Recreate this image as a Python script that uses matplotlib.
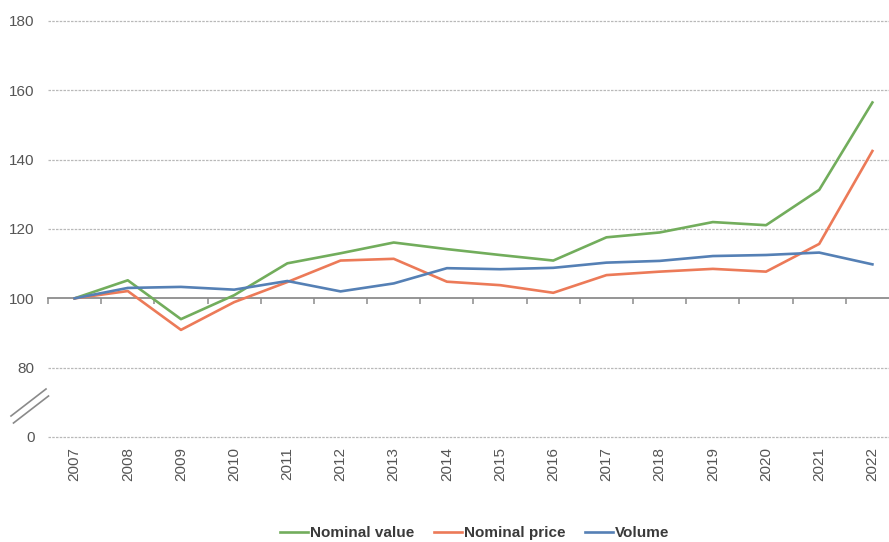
import matplotlib
matplotlib.use("Agg")
import matplotlib.pyplot as plt
import numpy as np

plt.rcParams['font.family'] = ['Liberation Sans', 'DejaVu Sans']

years = [str(y) for y in range(2007, 2023)]
nominal_value = [100, 105.2, 94.0, 100.9, 110.1, 113.0, 116.1, 114.2, 112.5, 110.9,
                 117.6, 119.0, 122.0, 121.1, 131.3, 156.5]
nominal_price = [100, 102.1, 90.9, 98.9, 104.7, 110.9, 111.4, 104.8, 103.8, 101.6,
                 106.7, 107.7, 108.5, 107.7, 115.7, 142.5]
volume = [100, 103.0, 103.3, 102.5, 105.0, 102.0, 104.3, 108.7, 108.4, 108.8,
          110.3, 110.8, 112.2, 112.5, 113.2, 109.8]

# Broken y axis: the "0" tick sits one step below 80
ytick_pos = [60, 80, 100, 120, 140, 160, 180]
ytick_labels = ['0', '80', '100', '120', '140', '160', '180']

green = '#72AD5C'
orange = '#EC7A58'
blue = '#5580B5'
grid_col = '#b9b9b9'
axis_col = '#8c8c8c'
text_col = '#555555'

W, H = 889, 542
fig = plt.figure(figsize=(W / 100, H / 100), dpi=100)
left, right, top, bottom = 48, 899, 21, 437
ax = fig.add_axes([left / W, 1 - bottom / H, (right - left) / W, (bottom - top) / H])

x = np.arange(len(years))
ax.set_xlim(-0.5, len(years) - 0.5)
ax.set_ylim(60, 180)

for yv in ytick_pos:
    if yv != 100:
        ax.axhline(yv, color=grid_col, lw=0.9, ls=(0, (2, 1)), zorder=1, clip_on=False)

ax.plot(x, nominal_value, color=green, lw=1.9, label='Nominal value', zorder=3)
ax.plot(x, nominal_price, color=orange, lw=1.9, label='Nominal price', zorder=3)
ax.plot(x, volume, color=blue, lw=1.9, label='Volume', zorder=3)

for s in ax.spines.values():
    s.set_visible(False)

ax.set_yticks(ytick_pos)
ax.set_yticklabels(ytick_labels)
ax.tick_params(axis='y', length=0, pad=9.5, labelsize=11, colors=text_col)

ax.set_xticks(x)
ax.set_xticklabels(years, rotation=90)
ax.tick_params(axis='x', length=0, pad=7, labelsize=11, colors=text_col)

# Category axis drawn through 100 with ticks between categories
sec = ax.secondary_xaxis((100 - 60) / (180 - 60))
sec.set_xticks(np.arange(-0.5, len(years), 1))
sec.set_xticklabels([])
sec.spines['bottom'].set_color(axis_col)
sec.spines['bottom'].set_linewidth(1.3)
sec.tick_params(axis='x', direction='out', length=4.5, width=1.1, color=axis_col)

# Axis-break marks between 0 and 80
for off in (0.0, 2.5):
    fig.add_artist(plt.Line2D([(11 + off) / W, (46 + off) / W],
                              [1 - (416 + off * 2.8) / H, 1 - (389 + off * 2.8) / H],
                              color='#8a8a8a', lw=1.2))

leg = fig.legend(loc='center', bbox_to_anchor=(0.534, 1 - 533 / H), ncol=3,
                 frameon=False, handlelength=1.8, handletextpad=0.15,
                 columnspacing=1.3, prop={'size': 11, 'weight': 'bold'})
for t in leg.get_texts():
    t.set_color('#3a3a3a')

fig.savefig('out.png', dpi=100)
